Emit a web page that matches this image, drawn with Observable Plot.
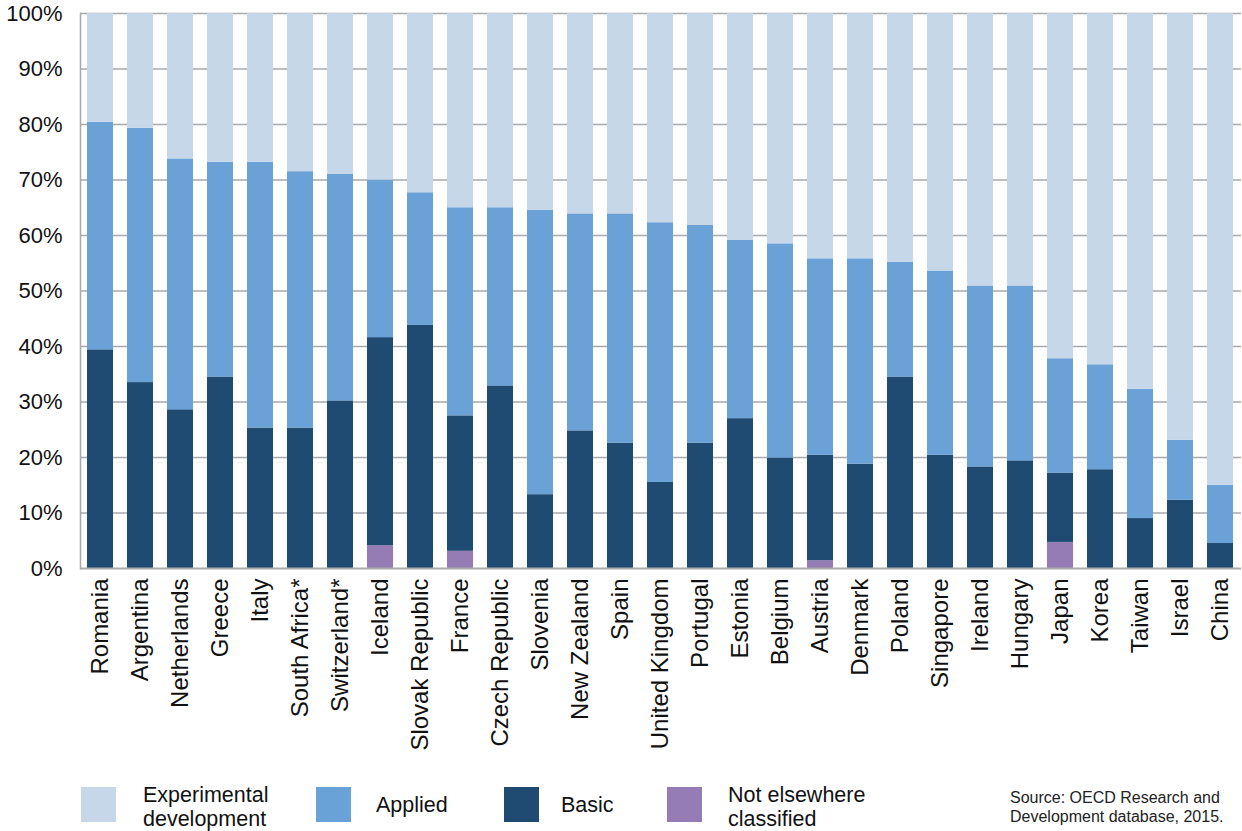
<!DOCTYPE html>
<html>
<head>
<meta charset="utf-8">
<script src="https://cdn.jsdelivr.net/npm/d3@7"></script>
<script src="https://cdn.jsdelivr.net/npm/@observablehq/plot@0.6"></script>
<style>
  html, body { margin: 0; padding: 0; background: #fff; }
  body { width: 1242px; height: 831px; position: relative; overflow: hidden;
         font-family: "Liberation Sans", Arial, Helvetica, sans-serif; color: #111; }
  #chart { position: absolute; left: 0; top: 0; }
  .sw { position: absolute; width: 35px; height: 35px; top: 17px; }
  .lt { position: absolute; font-size: 21.5px; line-height: 24px; color: #111; }
  #legend { position: absolute; left: 0; top: 770px; width: 1242px; height: 61px; }
  #source { position: absolute; left: 1010px; top: 18px; font-size: 16px; line-height: 19px; color: #222; }
</style>
</head>
<body>
<div id="chart"></div>
<div id="legend"></div>
<script>
const countries = ["Romania","Argentina","Netherlands","Greece","Italy","South Africa*","Switzerland*","Iceland","Slovak Republic","France","Czech Republic","Slovenia","New Zealand","Spain","United Kingdom","Portugal","Estonia","Belgium","Austria","Denmark","Poland","Singapore","Ireland","Hungary","Japan","Korea","Taiwan","Israel","China"];
const notElsewhere = [0,0,0,0,0,0,0,4.1,0,3.1,0,0,0,0,0,0,0,0,1.4,0,0,0,0,0,4.7,0,0,0,0];
const basic        = [39.4,33.5,28.6,34.5,25.3,25.3,30.2,37.5,43.8,24.4,32.9,13.3,24.8,22.6,15.5,22.6,27.0,19.9,19.0,18.8,34.5,20.4,18.3,19.4,12.5,17.8,9.0,12.3,4.5];
const applied      = [41.0,45.8,45.2,38.7,47.9,46.2,40.8,28.4,23.9,37.5,32.1,51.2,39.1,41.3,46.8,39.2,32.1,38.6,35.4,37.0,20.7,33.2,32.6,31.5,20.6,18.9,23.3,10.8,10.5];
const experimental = [19.6,20.7,26.2,26.8,26.8,28.5,29.0,30.0,32.3,35.0,35.0,35.5,36.1,36.1,37.7,38.2,40.9,41.5,44.2,44.2,44.8,46.4,49.1,49.1,62.2,63.3,67.7,76.9,85.0];
const categories = ["Not elsewhere classified","Basic","Applied","Experimental development"];
const colors = ["#967cb4","#1f4a72","#6aa1d6","#c6d7e9"];
const yTicks = [0,10,20,30,40,50,60,70,80,90,100];
const legendItems = [
  {cat: "Experimental development", lines: ["Experimental","development"], sx: 81, tx: 143},
  {cat: "Applied", lines: ["Applied"], sx: 316, tx: 376},
  {cat: "Basic", lines: ["Basic"], sx: 504, tx: 561},
  {cat: "Not elsewhere classified", lines: ["Not elsewhere","classified"], sx: 667, tx: 728}
];
const sourceLines = ["Source: OECD Research and", "Development database, 2015."];

const series = [notElsewhere, basic, applied, experimental];
const data = countries.flatMap((c, i) => categories.map((cat, k) => ({country: c, cat, value: series[k][i]})));

const H = 770;
const chart = Plot.plot({
  width: 1242,
  height: H,
  marginTop: 13,
  marginLeft: 80,
  marginRight: 1,
  marginBottom: H - 568,
  style: {fontFamily: "'Liberation Sans', Arial, Helvetica, sans-serif", fontSize: "22px", color: "#111", background: "#fff"},
  x: {domain: countries, paddingInner: 0.34, paddingOuter: 0.17, label: null},
  y: {domain: [0, 100], label: null},
  color: {domain: categories, range: colors},
  marks: [
    Plot.ruleY(yTicks.slice(1), {stroke: "#a9a9a9", strokeWidth: 1.5}),
    Plot.barY(data, {x: "country", y: "value", fill: "cat"}),
    Plot.ruleY([0], {stroke: "#a9a9a9", strokeWidth: 2}),
    Plot.frame({anchor: "left", stroke: "#a9a9a9", strokeWidth: 1.5}),
    Plot.axisY({ticks: yTicks, tickFormat: d => d + "%", tickSize: 0, tickPadding: 18, label: null}),
    Plot.axisX({tickSize: 0, tickPadding: 10, tickRotate: -90, label: null, fontSize: 24})
  ]
});
document.getElementById("chart").appendChild(chart);

const legend = document.getElementById("legend");
legendItems.forEach((it, k) => {
  const sw = document.createElement("div");
  sw.className = "sw";
  sw.style.left = it.sx + "px";
  sw.style.background = colors[categories.indexOf(it.cat)];
  legend.appendChild(sw);
  const t = document.createElement("div");
  t.className = "lt";
  t.style.left = it.tx + "px";
  t.style.top = (it.lines.length === 2 ? 13 : 23) + "px";
  t.innerHTML = it.lines.join("<br>");
  legend.appendChild(t);
});
const src = document.createElement("div");
src.id = "source";
src.innerHTML = sourceLines.join("<br>");
legend.appendChild(src);
</script>
</body>
</html>
